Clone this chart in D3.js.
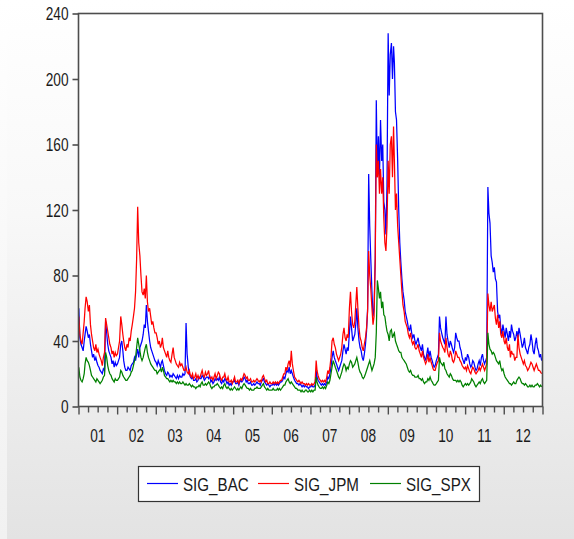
<!DOCTYPE html>
<html>
<head>
<meta charset="utf-8">
<script src="https://cdn.jsdelivr.net/npm/d3@7"></script>
<style>
  html, body { margin: 0; padding: 0; background: #ffffff; }
  svg { display: block; }
</style>
</head>
<body>
<svg id="chart" width="574" height="539"></svg>
<script>
// Volatility series 2001-2012, three readings per month (early / mid / late).
const startYear = 2001;
const endYear = 2012;
const seriesNames = ["SIG_BAC", "SIG_JPM", "SIG_SPX"];
const seriesColors = ["#0000ff", "#ff0000", "#008000"];

const sigBAC = [
  60,42,38, 36,34,40, 44,49,46, 42,44,38, 34,30,32, 28,30,27, 25,24,22, 21,20,23, 22,52,45, 38,34,32, 30,26,28, 24,27,25,
  26,28,30, 38,40,34, 28,24,22, 22,24,23, 22,25,26, 27,30,28, 32,35,30, 36,38,40, 44,50,48, 62,52,46, 40,36,34, 32,30,28,
  27,25,28, 26,24,27, 28,25,22, 20,19,21, 20,18,19, 18,20,19, 18,17,19, 17,19,18, 18,20,19, 20,51,32, 24,20,18, 17,18,16,
  16,17,15, 16,18,17, 17,19,18, 16,17,18, 18,17,19, 15,16,14, 15,17,16, 17,16,18, 15,14,16, 15,17,16, 14,15,13, 14,13,15,
  15,16,14, 14,15,13, 15,16,15, 16,18,17, 15,16,14, 14,15,13, 13,14,13, 14,15,14, 14,13,15, 16,17,15, 14,13,14, 13,12,13,
  13,14,13, 14,13,14, 13,14,15, 15,16,18, 17,20,22, 21,24,20, 22,20,18, 16,15,14, 14,13,14, 13,12,13, 12,13,12, 12,11,12,
  12,13,12, 12,13,22, 18,16,15, 14,13,14, 13,14,13, 15,18,17, 20,24,30, 34,30,28, 26,24,22, 24,26,28, 34,38,35, 32,36,34,
  45,55,48, 40,42,44, 50,60,48, 40,36,34, 30,28,32, 38,46,60, 142,110,90, 70,55,60, 90,187,140, 165,140,175, 150,160,125, 120,105,135,
  228,190,215, 222,200,220, 210,180,175, 150,120,100, 88,78,70, 65,58,55, 52,48,46, 50,45,42, 44,40,38, 40,42,38, 36,34,38, 32,30,28,
  32,36,30, 34,30,28, 26,24,25, 28,30,32, 55,48,45, 42,40,38, 55,44,40, 36,40,38, 35,33,36, 45,42,40, 40,36,34, 30,28,26,
  30,28,32, 30,26,24, 25,28,27, 24,22,23, 26,28,25, 30,32,28, 26,28,30, 134,118,112, 92,88,82, 85,78,76, 58,54,56, 48,44,50,
  46,42,48, 44,40,46, 42,50,46, 44,40,42, 46,42,48, 44,40,36, 38,42,36, 34,32,36, 38,44,40, 34,32,38, 42,36,34, 30,32,28
];

const sigJPM = [
  55,44,40, 38,45,52, 60,67,64, 58,62,50, 44,40,36, 34,38,33, 35,32,30, 28,25,30, 33,54,50, 46,42,38, 36,32,34, 30,33,31,
  32,36,40, 55,50,44, 40,36,34, 38,36,42, 40,46,50, 55,60,70, 90,122,100, 92,80,70, 68,72,66, 80,64,58, 60,55,50, 52,48,45,
  45,42,38, 40,36,38, 42,36,34, 32,30,34, 30,28,27, 32,36,30, 28,26,25, 24,27,25, 26,24,22, 22,24,21, 20,22,19, 18,20,17,
  18,20,17, 19,17,18, 20,22,19, 18,21,19, 20,22,18, 17,18,16, 18,20,17, 19,21,20, 17,16,18, 18,20,17, 16,18,15, 15,16,14,
  16,18,15, 15,16,14, 16,17,16, 18,20,19, 17,18,16, 16,17,15, 15,16,15, 16,17,16, 15,16,15, 18,19,17, 15,16,14, 14,15,14,
  14,15,14, 15,14,15, 14,15,16, 16,18,20, 20,24,22, 26,28,24, 34,26,22, 18,17,16, 15,16,15, 14,15,14, 14,13,14, 13,14,13,
  13,14,13, 14,15,28, 22,19,17, 16,15,16, 15,16,15, 18,22,20, 24,30,40, 42,38,36, 32,30,28, 30,32,36, 44,48,42, 40,44,42,
  60,70,58, 50,48,52, 62,73,60, 48,42,40, 36,34,38, 42,48,58, 95,80,72, 60,50,55, 90,160,140, 150,130,145, 130,140,115, 100,95,110,
  150,130,160, 165,140,171, 150,120,130, 110,100,90, 80,70,62, 58,52,50, 48,44,42, 45,40,38, 40,36,35, 36,38,34, 32,30,34, 30,28,26,
  28,32,27, 30,27,25, 23,22,22, 25,27,28, 45,40,38, 36,35,33, 42,36,32, 30,34,32, 28,27,29, 34,32,30, 30,28,27, 25,24,23,
  24,22,25, 23,21,20, 22,24,23, 21,20,21, 22,24,22, 24,26,24, 22,24,26, 69,62,58, 64,58,60, 62,54,50, 56,48,52, 44,42,46,
  40,38,42, 36,34,38, 30,34,32, 32,28,30, 30,44,36, 32,30,28, 26,28,25, 24,22,23, 25,27,26, 24,22,24, 26,24,22, 22,21,20
];

const sigSPX = [
  24,18,16, 15,17,20, 26,30,28, 27,25,22, 19,18,17, 16,15,17, 16,15,14, 15,16,18, 19,33,30, 25,22,20, 19,17,16, 15,17,16,
  16,17,18, 22,21,19, 18,17,16, 16,17,18, 19,21,22, 25,28,30, 36,42,38, 34,30,28, 30,33,36, 38,33,30, 28,26,25, 24,23,22,
  22,20,21, 22,23,21, 24,22,19, 18,17,17, 16,15,16, 15,16,15, 15,14,15, 14,15,14, 14,15,14, 13,14,13, 13,14,13, 12,13,12,
  12,11,12, 12,13,12, 14,15,13, 13,14,13, 14,15,14, 12,11,12, 12,13,13, 14,13,12, 11,12,11, 13,14,12, 11,12,11, 10,11,10,
  11,12,11, 10,11,10, 11,12,11, 13,14,13, 12,11,11, 10,11,10, 10,10,11, 11,12,11, 11,11,12, 13,14,12, 11,10,11, 10,10,10,
  10,11,10, 10,10,11, 10,11,10, 11,12,13, 13,15,16, 17,15,14, 15,14,13, 12,11,11, 10,10,10, 9,10,9, 9,10,10, 9,9,10,
  9,10,9, 10,10,18, 15,13,12, 11,11,12, 11,12,11, 13,15,14, 16,20,24, 28,26,24, 22,20,18, 17,19,21, 24,26,25, 22,24,23,
  26,28,27, 24,25,26, 28,30,27, 23,21,20, 18,17,18, 20,22,24, 26,28,25, 22,24,26, 30,45,77, 72,66,70, 60,64,56, 55,50,46,
  44,40,46, 47,42,44, 45,40,38, 36,34,33, 33,30,29, 28,27,26, 24,22,21, 22,20,19, 19,18,18, 18,19,17, 17,16,17, 15,14,15,
  15,17,16, 18,16,15, 14,13,13, 14,15,16, 30,27,26, 25,27,23, 22,20,19, 18,20,19, 17,16,16, 16,15,16, 15,16,15, 13,12,13,
  14,13,14, 13,14,15, 17,16,15, 13,12,13, 14,15,14, 16,17,15, 14,15,16, 45,38,35, 34,32,33, 32,30,28, 27,26,28, 24,22,23,
  20,18,17, 16,15,14, 14,13,14, 15,14,14, 16,17,18, 17,15,14, 14,13,14, 13,12,12, 13,12,13, 12,12,13, 13,14,13, 12,13,12
];

const yTicks = [0, 40, 80, 120, 160, 200, 240];
const yearLabels = ["01","02","03","04","05","06","07","08","09","10","11","12"];

// Sample dates: the 4th, 14th and 24th of every month.
const sampleDates = [];
for (let y = startYear; y <= endYear; y++) {
  for (let m = 0; m < 12; m++) {
    for (let k = 0; k < 3; k++) sampleDates.push(new Date(y, m, 4 + 10 * k));
  }
}

const svg = d3.select("#chart");
const W = 574, H = 539;
const plot = { left: 78.5, right: 542.5, top: 13.5, bottom: 406.5 };
const FONT = "'Liberation Sans', Arial, sans-serif";
const TEXT_COLOR = "#1a1a1a";
const NUM_SX = 0.76;   // condensed numerals
const LEG_SX = 0.82;   // condensed legend text

// ---- background panel ----
const defs = svg.append("defs");
const bg = defs.append("linearGradient").attr("id", "panelGrad")
  .attr("x1", 0).attr("y1", 0).attr("x2", 0).attr("y2", 1);
bg.append("stop").attr("offset", "0%").attr("stop-color", "#ffffff");
bg.append("stop").attr("offset", "40%").attr("stop-color", "#f8f8f8");
bg.append("stop").attr("offset", "100%").attr("stop-color", "#e3e3e3");
const bgL = defs.append("linearGradient").attr("id", "stripGrad")
  .attr("x1", 0).attr("y1", 0).attr("x2", 0).attr("y2", 1);
bgL.append("stop").attr("offset", "0%").attr("stop-color", "#ffffff");
bgL.append("stop").attr("offset", "100%").attr("stop-color", "#f1f1f1");

svg.append("rect").attr("x", 0).attr("y", 0).attr("width", 7).attr("height", H).attr("fill", "url(#stripGrad)");
svg.append("rect").attr("x", 7).attr("y", 0).attr("width", W - 7).attr("height", H).attr("fill", "url(#panelGrad)");

defs.append("clipPath").attr("id", "plotClip").append("rect")
  .attr("x", plot.left).attr("y", plot.top)
  .attr("width", plot.right - plot.left).attr("height", plot.bottom - plot.top);

// plot area
svg.append("rect")
  .attr("x", plot.left).attr("y", plot.top)
  .attr("width", plot.right - plot.left).attr("height", plot.bottom - plot.top)
  .attr("fill", "#ffffff");

// ---- scales ----
const x = d3.scaleTime()
  .domain([new Date(startYear, 0, 1), new Date(endYear + 1, 0, 1)])
  .range([plot.left, plot.right]);
const y = d3.scaleLinear().domain([0, 240]).range([plot.bottom, plot.top]);

// ---- series ----
const seriesValues = [sigBAC, sigJPM, sigSPX];
const line = d3.line()
  .x((d, i) => x(sampleDates[i]))
  .y(d => y(d));

const gLines = svg.append("g").attr("clip-path", "url(#plotClip)");
seriesValues.forEach((vals, s) => {
  gLines.append("path")
    .datum(vals)
    .attr("d", line)
    .attr("fill", "none")
    .attr("stroke", seriesColors[s])
    .attr("stroke-width", 1.25)
    .attr("stroke-linejoin", "miter");
});

// ---- frame ----
svg.append("rect")
  .attr("x", plot.left).attr("y", plot.top)
  .attr("width", plot.right - plot.left).attr("height", plot.bottom - plot.top)
  .attr("fill", "none").attr("stroke", "#4d4d4d").attr("stroke-width", 1.6);

// ---- y axis ----
const yAxis = svg.append("g")
  .attr("transform", `translate(${plot.left},0)`)
  .call(d3.axisLeft(y).tickValues(yTicks).tickSize(6).tickPadding(4).tickFormat(d3.format("d")));
yAxis.select(".domain").remove();
yAxis.selectAll(".tick line").attr("stroke", "#4d4d4d").attr("stroke-width", 1.6);
yAxis.selectAll(".tick text")
  .attr("font-family", FONT).attr("font-size", 18).attr("fill", TEXT_COLOR)
  .attr("x", -10 / NUM_SX)
  .attr("dy", "0.34em")
  .attr("transform", `scale(${NUM_SX},1)`);

// ---- x axis ----
const quarterTicks = d3.timeMonth.every(3).range(new Date(startYear, 0, 1), new Date(endYear + 1, 0, 2));
const xAxis = svg.append("g")
  .attr("transform", `translate(0,${plot.bottom})`)
  .call(d3.axisBottom(x).tickValues(quarterTicks).tickSize(6).tickFormat(""));
xAxis.select(".domain").remove();
xAxis.selectAll(".tick line")
  .attr("stroke", "#4d4d4d").attr("stroke-width", 1.4)
  .attr("y2", d => d.getMonth() === 0 ? 8 : 6);

const xLabels = svg.append("g");
yearLabels.forEach((lab, i) => {
  const yr = startYear + i;
  const cx = (x(new Date(yr, 0, 1)) + x(new Date(yr + 1, 0, 1))) / 2;
  xLabels.append("g")
    .attr("transform", `translate(${cx},442) scale(${NUM_SX},1)`)
    .append("text")
    .attr("text-anchor", "middle")
    .attr("font-family", FONT).attr("font-size", 18).attr("fill", TEXT_COLOR)
    .text(lab);
});

// ---- legend ----
const legend = svg.append("g");
legend.append("rect")
  .attr("x", 138.5).attr("y", 466.5).attr("width", 341).attr("height", 35)
  .attr("fill", "#ffffff").attr("stroke", "#333").attr("stroke-width", 1.2);
const legendX = [147, 258, 370];
seriesNames.forEach((name, i) => {
  const lx = legendX[i];
  legend.append("line")
    .attr("x1", lx).attr("x2", lx + 31).attr("y1", 483.5).attr("y2", 483.5)
    .attr("stroke", seriesColors[i]).attr("stroke-width", 1.2);
  legend.append("g")
    .attr("transform", `translate(${lx + 36},490.5) scale(${LEG_SX},1)`)
    .append("text")
    .attr("font-family", FONT).attr("font-size", 18.5).attr("fill", TEXT_COLOR)
    .text(name);
});
</script>
</body>
</html>
